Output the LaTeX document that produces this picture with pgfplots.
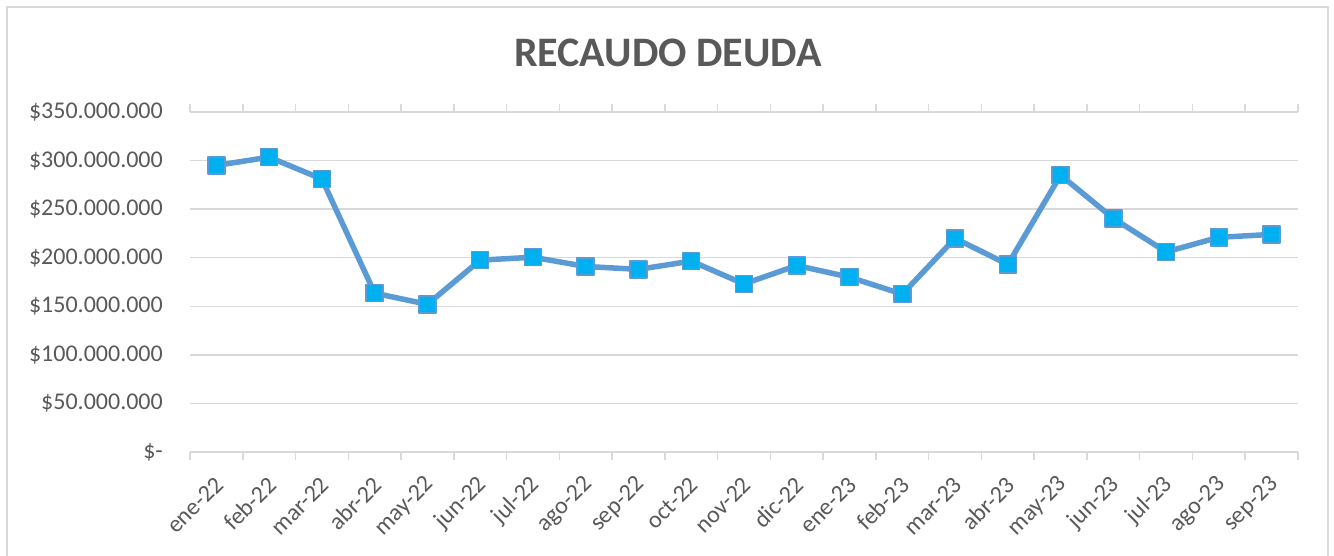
\documentclass[border=0pt]{standalone}
\usepackage{fontspec}
\setmainfont{Carlito}
\usepackage{pgfplots}
\pgfplotsset{compat=1.18}
\definecolor{txt}{HTML}{595959}
\definecolor{grd}{HTML}{D9D9D9}
\definecolor{ln}{HTML}{5B9BD5}
\definecolor{mk}{HTML}{00B0F0}
\begin{document}
\begin{tikzpicture}
\useasboundingbox (0,0) rectangle (1334pt,555pt);
\draw[grd, line width=1.5pt] (7pt,-10pt) -- (7pt,548pt) -- (1328pt,548pt) -- (1328pt,-10pt);
\node[text=txt, font=\fontsize{42}{50}\selectfont\bfseries] at (668pt,502pt) {RECAUDO DEUDA};
\begin{axis}[
  at={(190pt,103pt)}, anchor=south west,
  scale only axis, width=1108pt, height=340pt,
  xmin=-0.5, xmax=20.5, ymin=0, ymax=350000000,
  clip=false,
  axis line style={draw=none},
  scaled y ticks=false,
  ytick={0,50000000,100000000,150000000,200000000,250000000,300000000,350000000},
  yticklabels={\$-,\$50.000.000,\$100.000.000,\$150.000.000,\$200.000.000,\$250.000.000,\$300.000.000,\$350.000.000},
  ymajorgrids, grid style={grd, line width=1.5pt},
  xtick={0,...,20},
  xticklabels={ene-22,feb-22,mar-22,abr-22,may-22,jun-22,jul-22,ago-22,sep-22,oct-22,nov-22,dic-22,ene-23,feb-23,mar-23,abr-23,may-23,jun-23,jul-23,ago-23,sep-23},
  minor xtick={-0.5,0.5,...,20.5},
  major tick length=0pt, minor tick length=8pt,
  tick align=outside,
  minor tick style={grd, line width=1.5pt},
  ticklabel style={text=txt, font=\fontsize{24}{28}\selectfont},
  yticklabel style={anchor=east, inner sep=0pt, xshift=-27pt},
  xticklabel style={inner sep=0pt, yshift=-29pt, xshift=3pt, rotate=45, anchor=east},
]
\addplot[ln, line width=5.5pt, line join=round,
  mark=square*, mark size=8.5pt,
  mark options={fill=mk, draw=ln, line width=1.5pt, solid}]
coordinates {
(0,295000000) (1,303500000) (2,281000000) (3,163500000) (4,152000000)
(5,197500000) (6,200500000) (7,191000000) (8,188000000) (9,196500000)
(10,173000000) (11,192000000) (12,180000000) (13,162500000) (14,220000000)
(15,193000000) (16,285000000) (17,240500000) (18,206000000) (19,221000000)
(20,224000000)
};
\end{axis}
\end{tikzpicture}
\end{document}
